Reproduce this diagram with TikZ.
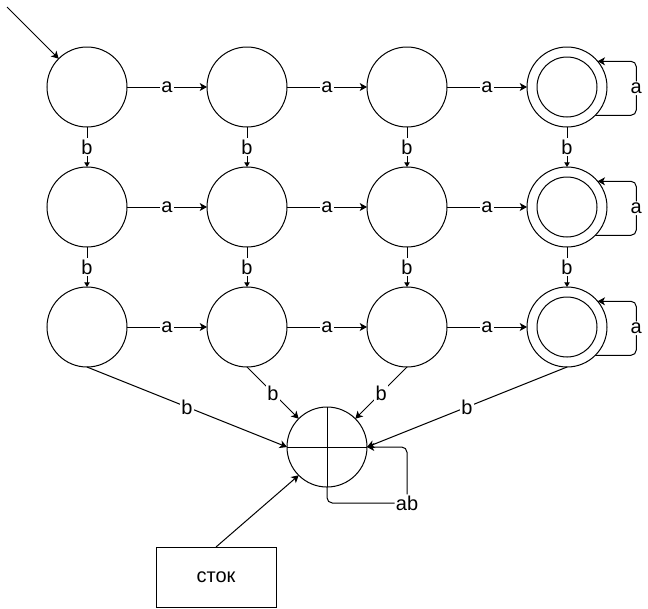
\documentclass[tikz,border=0pt]{standalone}
\usepackage{fontspec}
\setmainfont{Liberation Sans}
\usepackage{tikz}
\usetikzlibrary{arrows.meta, positioning, calc}

\begin{document}
\begin{tikzpicture}[
    node distance=30pt and 60pt,
    line width=0.75pt,
    every node/.style={font=\fontsize{15}{18}\selectfont},
    state/.style={
        circle,
        minimum size=60pt,
        inner sep=0pt,
        outer sep=0pt,
        draw=black
    },
    sinkbox/.style={
        rectangle,
        minimum width=90pt,
        minimum height=45pt,
        outer sep=0pt,
        text centered,
        draw=black
    },
    lbl/.style={fill=white, inner sep=1pt},
    arrow/.style={
        -{Stealth[length=5.5pt, width=6pt, inset=1.5pt]}
    },
    downarrow/.style={
        -{Triangle[length=3.5pt, width=4pt]}
    }
]
\useasboundingbox (-65.25pt,65.25pt) rectangle (420.75pt,-390.75pt);

% --- first row ---
\node (q00) [state] {};
\node (q01) [state, right=of q00] {};
\node (q02) [state, right=of q01] {};
\node (q03) [state, right=of q02] {};

% --- second row ---
\node (q10) [state, below=of q00] {};
\node (q11) [state, below=of q01] {};
\node (q12) [state, below=of q02] {};
\node (q13) [state, below=of q03] {};

% --- third row ---
\node (q20) [state, below=of q10] {};
\node (q21) [state, below=of q11] {};
\node (q22) [state, below=of q12] {};
\node (q23) [state, below=of q13] {};

% --- accepting states ---
\draw (q03) circle[radius=22.5pt];
\draw (q13) circle[radius=22.5pt];
\draw (q23) circle[radius=22.5pt];

% --- sink ---
\coordinate (mid) at ($(q21.south)!0.5!(q22.south)$);
\node (sink) [state, below=of mid] {};
\draw (sink.north) -- (sink.south) (sink.west) -- (sink.east);
\node (stok) [sinkbox, below=45pt of sink, xshift=-83.25pt] {сток};

% --- arrows ---
\coordinate (start) at ($(q00)+(-60pt,60pt)$);
\draw [arrow] (start) -- (q00.north west);

\draw [arrow] (q00) -- node[lbl]{a} (q01);
\draw [arrow] (q01) -- node[lbl]{a} (q02);
\draw [arrow] (q02) -- node[lbl]{a} (q03);
\draw [arrow] (q10) -- node[lbl]{a} (q11);
\draw [arrow] (q11) -- node[lbl]{a} (q12);
\draw [arrow] (q12) -- node[lbl]{a} (q13);
\draw [arrow] (q20) -- node[lbl]{a} (q21);
\draw [arrow] (q21) -- node[lbl]{a} (q22);
\draw [arrow] (q22) -- node[lbl]{a} (q23);

\draw [downarrow] (q00) -- node[lbl]{b} (q10);
\draw [downarrow] (q01) -- node[lbl]{b} (q11);
\draw [downarrow] (q02) -- node[lbl]{b} (q12);
\draw [downarrow] (q03) -- node[lbl]{b} (q13);
\draw [downarrow] (q10) -- node[lbl]{b} (q20);
\draw [downarrow] (q11) -- node[lbl]{b} (q21);
\draw [downarrow] (q12) -- node[lbl]{b} (q22);
\draw [downarrow] (q13) -- node[lbl]{b} (q23);

\draw [arrow, rounded corners=4pt] (q03.-45) -- ++(30.75pt,0) |- node[lbl, pos=0.25]{a} (q03.40);
\draw [arrow, rounded corners=4pt] (q13.-45) -- ++(30.75pt,0) |- node[lbl, pos=0.25]{a} (q13.40);
\draw [arrow, rounded corners=4pt] (q23.-45) -- ++(30.75pt,0) |- node[lbl, pos=0.25]{a} (q23.40);

\draw [arrow] (q20.south) -- node[lbl]{b} (sink.west);
\draw [arrow] (q21.south) -- node[lbl]{b} (sink.north west);
\draw [arrow] (q22.south) -- node[lbl]{b} (sink.north east);
\draw [arrow] (q23.south) -- node[lbl]{b} (sink.east);

\coordinate (abcorner) at ($(sink.south)+(60pt,-12pt)$);
\draw [arrow, rounded corners=4pt] (sink.south) |- (abcorner) node[lbl]{ab} |- (sink.east);

\draw [arrow] (stok.north) -- (sink.south west);

\end{tikzpicture}
\end{document}
